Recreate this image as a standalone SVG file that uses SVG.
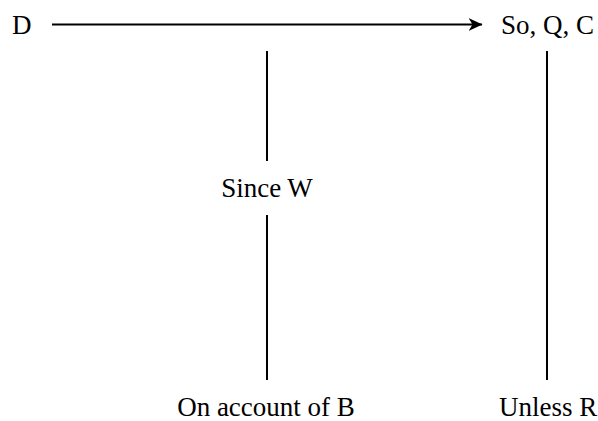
<svg xmlns="http://www.w3.org/2000/svg" width="598" height="421" viewBox="0 0 598 421">
  <style>
    .ln { stroke: #000; stroke-width: 2; fill: none; }
  </style>
  <defs>
    <marker id="arrow" viewBox="0 0 14 13" refX="13.5" refY="6.5" markerWidth="14" markerHeight="13" markerUnits="userSpaceOnUse" orient="auto">
      <path d="M0,0 L14,6.5 L0,13 L4,6.5 Z" fill="#000"/>
    </marker>
  </defs>
  <rect width="598" height="421" fill="#fff"/>
  <g id="connectors">
    <line class="ln" x1="52" y1="24.5" x2="482" y2="24.5" marker-end="url(#arrow)"/>
    <line class="ln" x1="267" y1="51" x2="267" y2="161"/>
    <line class="ln" x1="267" y1="215" x2="267" y2="380"/>
    <line class="ln" x1="547" y1="51" x2="547" y2="380"/>
  </g>
  <g font-family="Liberation Serif, serif" font-size="27" fill="#000">
    <g id="data"><text x="12" y="34">D</text></g>
    <g id="claim"><text x="501" y="34">So, Q, C</text></g>
    <g id="warrant"><text x="267" y="197" text-anchor="middle">Since W</text></g>
    <g id="backing"><text x="266" y="416" text-anchor="middle">On account of B</text></g>
    <g id="rebuttal"><text x="499" y="416">Unless R</text></g>
  </g>
</svg>
